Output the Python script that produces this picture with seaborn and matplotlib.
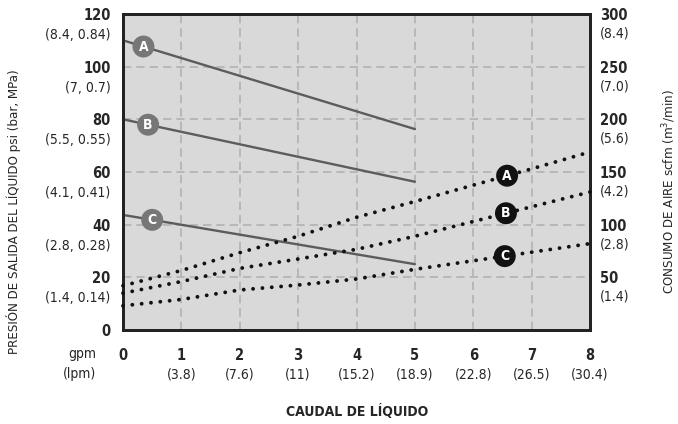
import numpy as np
import pandas as pd
import seaborn as sns
import matplotlib
matplotlib.use("Agg")
import matplotlib.pyplot as plt
from matplotlib import font_manager

# Caudal de líquido (gpm) y presión de salida (psi) - líneas continuas
gpm_liquido = [0, 5]
psi_a = [110, 76.3]
psi_b = [80, 56.3]
psi_c = [43.7, 25]

# Consumo de aire (scfm) - líneas punteadas
gpm_aire_ab = [0, 1, 2, 3, 4, 5, 7, 8]
scfm_a = [42, 56.5, 73.4, 89, 107, 122, 153, 169]
scfm_b = [35, 46, 58.5, 67.4, 76.6, 89, 117, 131]
gpm_aire_c = [0, 1, 2, 3, 4, 5, 8]
scfm_c = [23, 29, 38, 42.7, 48.4, 57.6, 82]

# Etiquetas de ejes
x_ticks = [0, 1, 2, 3, 4, 5, 6, 7, 8]
x_lpm = ["", "(3.8)", "(7.6)", "(11)", "(15.2)", "(18.9)", "(22.8)", "(26.5)", "(30.4)"]
y_ticks = [0, 20, 40, 60, 80, 100, 120]
y_metric = ["", "(1.4, 0.14)", "(2.8, 0.28)", "(4.1, 0.41)", "(5.5, 0.55)", "(7, 0.7)", "(8.4, 0.84)"]
y2_ticks = [50, 100, 150, 200, 250, 300]
y2_metric = ["(1.4)", "(2.8)", "(4.2)", "(5.6)", "(7.0)", "(8.4)"]

letras = ["A", "B", "C"]
x_letra_psi = [0.35, 0.43, 0.5]
x_letra_aire = [6.58, 6.56, 6.54]

sns.set_style("white", {"axes.facecolor": "#d9d9d9"})
nombres = {f.name for f in font_manager.fontManager.ttflist}
if "Liberation Sans Narrow" in nombres:
    plt.rcParams["font.family"] = ["Liberation Sans Narrow", "DejaVu Sans"]
    estirar = "normal"
else:
    plt.rcParams["font.family"] = ["DejaVu Sans"]
    estirar = "condensed"
plt.rcParams["font.stretch"] = estirar

fig = plt.figure(figsize=(6.78, 4.24), dpi=100)
ax = fig.add_axes([123 / 678, 94 / 424, 467 / 678, 316 / 424])
ax.set_xlim(0, 8)
ax.set_ylim(0, 120)

# Rejilla discontinua
for xv in x_ticks[1:-1]:
    ax.axvline(xv, color="#b2b2b2", lw=1.2, ls=(0, (5, 3)), zorder=1)
for yv in y_ticks[1:-1]:
    ax.axhline(yv, color="#b2b2b2", lw=1.2, ls=(0, (5, 3)), zorder=1)

df_psi = pd.DataFrame({
    "gpm": gpm_liquido * 3,
    "psi": psi_a + psi_b + psi_c,
    "serie": ["A"] * 2 + ["B"] * 2 + ["C"] * 2,
})
sns.lineplot(data=df_psi, x="gpm", y="psi", units="serie", estimator=None,
             color="#5c5c5c", lw=1.7, ax=ax, zorder=3)

ax2 = ax.twinx()
ax2.set_ylim(0, 300)
ax2.patch.set_visible(False)
for gx, sv in [(gpm_aire_ab, scfm_a), (gpm_aire_ab, scfm_b), (gpm_aire_c, scfm_c)]:
    sns.lineplot(x=gx, y=sv, color="#111111", lw=2.8, ax=ax2, zorder=4,
                 linestyle=(0, (0.01, 2.4)), dash_capstyle="round", clip_on=False)

# Marcadores de letras
for letra, xl, ys in zip(letras, x_letra_psi, [psi_a, psi_b, psi_c]):
    yl = np.interp(xl, gpm_liquido, ys)
    ax.scatter([xl], [yl], s=250, color="#777777", zorder=5, edgecolor="none")
    ax.text(xl, yl, letra, color="white", fontsize=10, fontweight="bold",
            ha="center", va="center", zorder=6)
for letra, xl, (gx, ys) in zip(letras, x_letra_aire,
                               [(gpm_aire_ab, scfm_a), (gpm_aire_ab, scfm_b), (gpm_aire_c, scfm_c)]):
    yl = np.interp(xl, gx, ys)
    ax2.scatter([xl], [yl], s=250, color="#111111", zorder=5, edgecolor="none")
    ax2.text(xl, yl, letra, color="white", fontsize=10, fontweight="bold",
             ha="center", va="center", zorder=6)

for a in (ax, ax2):
    a.set_xlabel("")
    a.set_ylabel("")
    a.tick_params(length=0)
    for s in a.spines.values():
        s.set_linewidth(2)
        s.set_color("#222222")

# Etiquetas del eje X
ax.set_xticks(x_ticks)
ax.set_xticklabels([str(t) for t in x_ticks], fontweight="bold", fontsize=10.5)
ax.tick_params(axis="x", pad=13)
for xv, lab in zip(x_ticks, x_lpm):
    ax.annotate(lab, xy=(xv, 0), xycoords=("data", "axes fraction"),
                xytext=(0, -32), textcoords="offset points",
                ha="center", va="center", fontsize=10)
ax.annotate("gpm", xy=(0, 0), xycoords="axes fraction", xytext=(-19, -17),
            textcoords="offset points", ha="right", va="center", fontsize=10)
ax.annotate("(lpm)", xy=(0, 0), xycoords="axes fraction", xytext=(-19, -32),
            textcoords="offset points", ha="right", va="center", fontsize=10)

# Etiquetas del eje Y izquierdo
ax.set_yticks(y_ticks)
ax.set_yticklabels([str(t) for t in y_ticks], fontweight="bold", fontsize=10.5)
ax.tick_params(axis="y", pad=9)
for yv, lab in zip(y_ticks, y_metric):
    ax.annotate(lab, xy=(0, yv), xycoords=("axes fraction", "data"),
                xytext=(-9, -15), textcoords="offset points",
                ha="right", va="center", fontsize=10)

# Etiquetas del eje Y derecho
ax2.set_yticks(y2_ticks)
ax2.set_yticklabels([str(t) for t in y2_ticks], fontweight="bold", fontsize=10.5)
ax2.tick_params(axis="y", pad=7)
for yv, lab in zip(y2_ticks, y2_metric):
    ax2.annotate(lab, xy=(1, yv), xycoords=("axes fraction", "data"),
                 xytext=(7, -14), textcoords="offset points",
                 ha="left", va="center", fontsize=10)

fig.text(357 / 678, 1 - 412 / 424, "CAUDAL DE LÍQUIDO", ha="center", va="center",
         fontsize=10, fontweight="bold")
fig.text(14 / 678, 1 - 212 / 424, "PRESIÓN DE SALIDA DEL LÍQUIDO psi (bar, MPa)",
         rotation=90, ha="center", va="center", fontsize=9.5)
fig.text(669 / 678, 1 - 192 / 424, "CONSUMO DE AIRE scfm (m$^3$/min)",
         rotation=90, ha="center", va="center", fontsize=9.5)

plt.savefig("out.png", dpi=100)
plt.close()
